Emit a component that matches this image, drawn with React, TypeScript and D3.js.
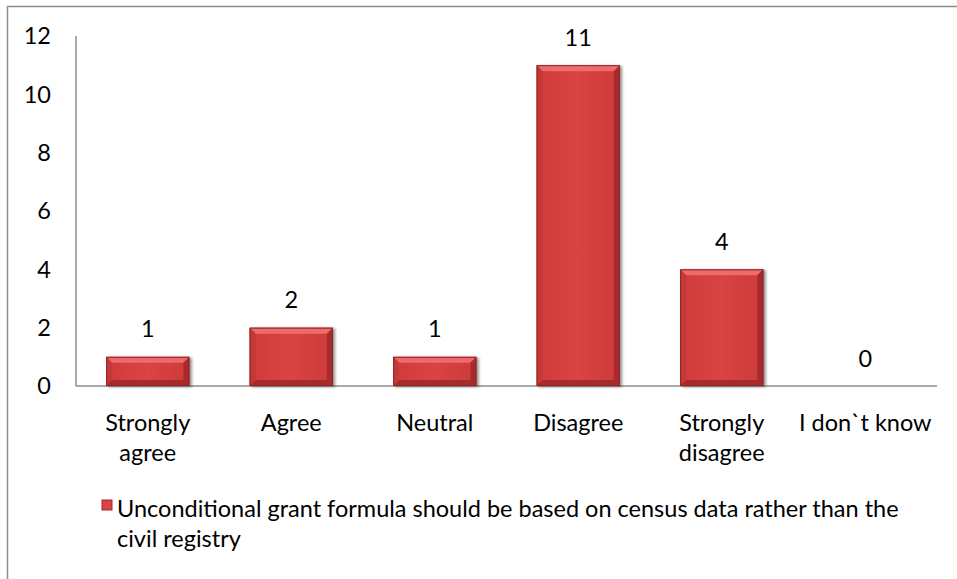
import React from "react";
import * as d3 from "d3";

const categories: string[][] = [
  ["Strongly", "agree"],
  ["Agree"],
  ["Neutral"],
  ["Disagree"],
  ["Strongly", "disagree"],
  ["I don`t know"],
];
const values: number[] = [1, 2, 1, 11, 4, 0];
const yTicks: number[] = [0, 2, 4, 6, 8, 10, 12];
const legendLines: string[] = [
  "Unconditional grant formula should be based on census data rather than the",
  "civil registry",
];

const W = 957;
const H = 579;
const FONT = "Lato, 'Open Sans', sans-serif";
const FS = 23.5;

export default function App() {
  const left = 76, right = 937, top = 36, bottom = 386;
  const keys = categories.map((c) => c.join(" "));
  const x = d3.scaleBand<string>().domain(keys).range([left, right]).paddingInner(0.42).paddingOuter(0.21);
  const y = d3.scaleLinear().domain([0, 12]).range([bottom, top]);
  const bw = x.bandwidth();
  const bev = 6;

  return (
    <svg width={W} height={H} style={{ position: "absolute", left: 0, top: 0, background: "#fff" }} fontFamily={FONT}>
      <defs>
        <linearGradient id="body" x1="0" x2="1" y1="0" y2="0">
          <stop offset="0" stopColor="#cf3b3b" />
          <stop offset="0.5" stopColor="#d94444" />
          <stop offset="1" stopColor="#cc3a3a" />
        </linearGradient>
        <filter id="shadow" x="-10%" y="-10%" width="130%" height="130%">
          <feGaussianBlur in="SourceAlpha" stdDeviation="1.5" />
          <feOffset dx="1.5" dy="1" result="b" />
          <feComponentTransfer><feFuncA type="linear" slope="0.45" /></feComponentTransfer>
          <feMerge><feMergeNode /><feMergeNode in="SourceGraphic" /></feMerge>
        </filter>
      </defs>
      <rect x={0} y={0} width={W} height={H} fill="#fff" />
      {/* outer chart border */}
      <path d={`M7.5,${H} V6.5 H${W}`} fill="none" stroke="#8c8c8c" strokeWidth={1.5} />

      {/* axes */}
      <line x1={left} x2={left} y1={top} y2={bottom} stroke="#8c8c8c" strokeWidth={1.5} />
      <line x1={left} x2={right} y1={bottom} y2={bottom} stroke="#8c8c8c" strokeWidth={1.5} />

      {yTicks.map((t) => (
        <text key={t} x={51} y={y(t)} dy="0.36em" textAnchor="end" fontSize={FS} fill="#000">
          {t}
        </text>
      ))}

      {values.map((v, i) => {
        const k = keys[i];
        const x0 = x(k)!;
        const y0 = y(v);
        const h = bottom - y0;
        const cx = x0 + bw / 2;
        return (
          <g key={k}>
            {h > 0 && (
              <g filter="url(#shadow)">
                <rect x={x0} y={y0} width={bw} height={h} fill="url(#body)" />
                <polygon points={`${x0},${y0} ${x0 + bw},${y0} ${x0 + bw - bev},${y0 + bev} ${x0 + bev},${y0 + bev}`} fill="#ef6a6a" />
                <polygon points={`${x0},${y0} ${x0 + bev},${y0 + bev} ${x0 + bev},${bottom - bev} ${x0},${bottom}`} fill="#c53737" />
                <polygon points={`${x0 + bw},${y0} ${x0 + bw - bev},${y0 + bev} ${x0 + bw - bev},${bottom - bev} ${x0 + bw},${bottom}`} fill="#a82c2c" />
                <polygon points={`${x0},${bottom} ${x0 + bev},${bottom - bev} ${x0 + bw - bev},${bottom - bev} ${x0 + bw},${bottom}`} fill="#a82c2c" />
                <rect x={x0 + 0.5} y={y0 + 0.5} width={bw - 1} height={h - 1} fill="none" stroke="#8e2525" strokeWidth={1} />
              </g>
            )}
            <text x={cx} y={y0 - 19.5} textAnchor="middle" fontSize={FS} fill="#000">{v}</text>
            {categories[i].map((line, j) => (
              <text key={j} x={cx} y={431 + j * 30} textAnchor="middle" fontSize={FS} fill="#000">{line}</text>
            ))}
          </g>
        );
      })}

      {/* legend */}
      <rect x={102} y={500} width={10} height={10} fill="#d94444" stroke="#9e2a2a" strokeWidth={1} />
      {legendLines.map((l, i) => (
        <text key={i} x={117} y={517 + i * 30} fontSize={FS} fill="#000">{l}</text>
      ))}
    </svg>
  );
}
